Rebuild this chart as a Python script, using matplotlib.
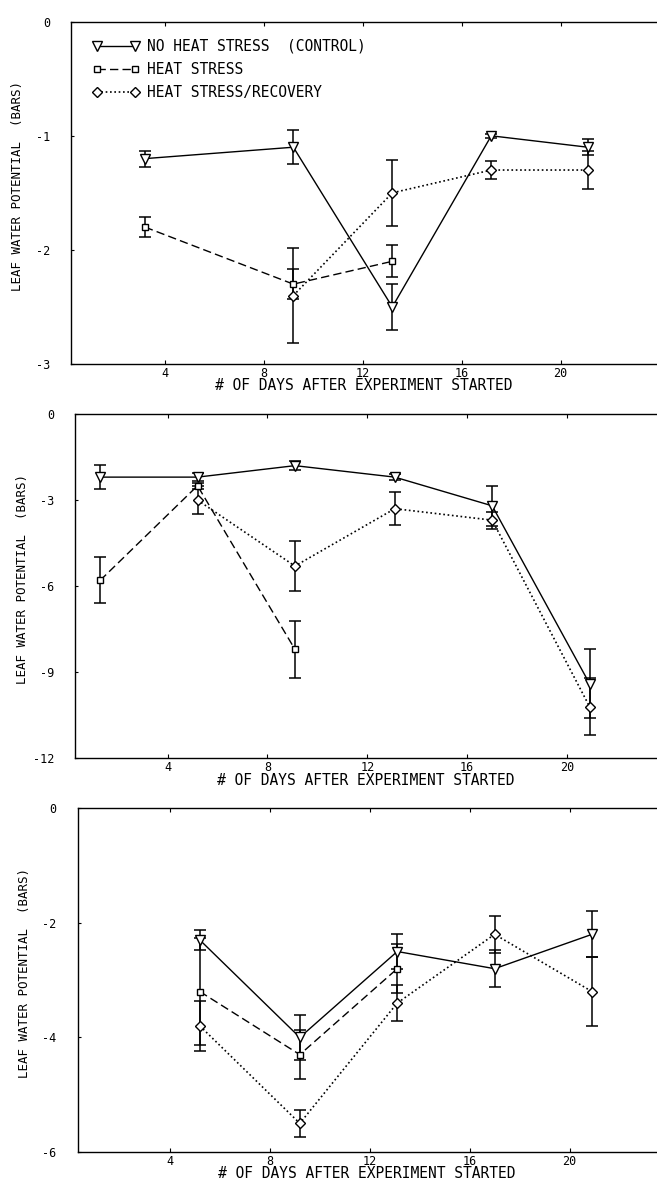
import matplotlib
matplotlib.use("Agg")
import matplotlib.pyplot as plt

plt.rcParams['font.family'] = ['DejaVu Sans Mono']

# ---------------- data ----------------
# Panel A
a_ctrl_x = [3.2, 9.2, 13.2, 17.2, 21.1]
a_ctrl_y = [-1.2, -1.1, -2.5, -1.0, -1.1]
a_ctrl_e = [0.07, 0.15, 0.2, 0.02, 0.07]
a_heat_x = [3.2, 9.2, 13.2]
a_heat_y = [-1.8, -2.3, -2.1]
a_heat_e = [0.09, 0.13, 0.14]
a_rec_x = [9.2, 13.2, 17.2, 21.1]
a_rec_y = [-2.4, -1.5, -1.3, -1.3]
a_rec_e = [0.42, 0.29, 0.08, 0.17]

# Panel B
b_ctrl_x = [1.3, 5.2, 9.1, 13.1, 17.0, 20.9]
b_ctrl_y = [-2.2, -2.2, -1.8, -2.2, -3.2, -9.4]
b_ctrl_e = [0.42, 0.15, 0.15, 0.1, 0.7, 1.2]
b_heat_x = [1.3, 5.2, 9.1]
b_heat_y = [-5.8, -2.5, -8.2]
b_heat_e = [0.8, 0.1, 1.0]
b_rec_x = [5.2, 9.1, 13.1, 17.0, 20.9]
b_rec_y = [-3.0, -5.3, -3.3, -3.7, -10.2]
b_rec_e = [0.5, 0.86, 0.58, 0.3, 1.0]

# Panel C
c_ctrl_x = [5.2, 9.2, 13.1, 17.0, 20.9]
c_ctrl_y = [-2.3, -4.0, -2.5, -2.8, -2.2]
c_ctrl_e = [0.18, 0.4, 0.3, 0.32, 0.4]
c_heat_x = [5.2, 9.2, 13.1]
c_heat_y = [-3.2, -4.3, -2.8]
c_heat_e = [0.93, 0.43, 0.43]
c_rec_x = [5.2, 9.2, 13.1, 17.0, 20.9]
c_rec_y = [-3.8, -5.5, -3.4, -2.2, -3.2]
c_rec_e = [0.44, 0.24, 0.32, 0.32, 0.6]

x_ticks = [4, 8, 12, 16, 20]
a_yticks = [0, -1, -2, -3]
b_yticks = [0, -3, -6, -9, -12]
c_yticks = [0, -2, -4, -6]

series_labels = ["NO HEAT STRESS  (CONTROL)", "HEAT STRESS", "HEAT STRESS/RECOVERY"]
xlabel = "# OF DAYS AFTER EXPERIMENT STARTED"
ylabel = "LEAF WATER POTENTIAL  (BARS)"

# ---------------- figure ----------------
W, H = 657, 1182
fig = plt.figure(figsize=(W / 100, H / 100), dpi=100)

def px_axes(left, top, bottom):
    return fig.add_axes([left / W, 1 - bottom / H, 1 - left / W, (bottom - top) / H])

panels = [
    dict(box=(71.2, 21.7, 364.0), xlim=(0.22, 23.9), ylim=(-3, 0), yt=a_yticks,
         data=[(a_ctrl_x, a_ctrl_y, a_ctrl_e), (a_heat_x, a_heat_y, a_heat_e), (a_rec_x, a_rec_y, a_rec_e)],
         legend=True),
    dict(box=(75.4, 414.0, 758.3), xlim=(0.31, 23.6), ylim=(-12, 0), yt=b_yticks,
         data=[(b_ctrl_x, b_ctrl_y, b_ctrl_e), (b_heat_x, b_heat_y, b_heat_e), (b_rec_x, b_rec_y, b_rec_e)],
         legend=False),
    dict(box=(77.5, 808.3, 1152.0), xlim=(0.3, 23.5), ylim=(-6, 0), yt=c_yticks,
         data=[(c_ctrl_x, c_ctrl_y, c_ctrl_e), (c_heat_x, c_heat_y, c_heat_e), (c_rec_x, c_rec_y, c_rec_e)],
         legend=False),
]

styles = [
    dict(marker='v', ms=7.5, ls='-', lw=1.0),
    dict(marker='s', ms=4.5, ls=(0, (6, 3)), lw=1.0),
    dict(marker='D', ms=5.5, ls=(0, (1, 1.6)), lw=1.2),
]

fs = 8.5
fs_h = 10.5
for p in panels:
    ax = px_axes(*p['box'])
    handles = []
    for (x, y, e), st, lab in zip(p['data'], styles, series_labels):
        ax.errorbar(x, y, yerr=e, fmt='none', ecolor='black', elinewidth=1.1,
                    capsize=4, capthick=1.1, zorder=2)
        h, = ax.plot(x, y, color='black', linestyle=st['ls'], linewidth=st['lw'],
                     marker=st['marker'], markersize=st['ms'], markerfacecolor='white',
                     markeredgecolor='black', markeredgewidth=1.0, label=lab, zorder=3)
        handles.append(h)
    ax.set_xlim(*p['xlim'])
    ax.set_ylim(*p['ylim'])
    ax.set_xticks(x_ticks)
    ax.set_xticklabels([str(t) for t in x_ticks], fontsize=fs)
    ax.set_yticks(p['yt'])
    ax.set_yticklabels([str(t) for t in p['yt']], fontsize=fs)
    ax.tick_params(axis='x', direction='in', length=3, width=0.8, top=True, pad=2)
    ax.tick_params(axis='y', direction='in', length=2, width=0.8, pad=15)
    ax.spines['right'].set_visible(False)
    for s in ('left', 'top', 'bottom'):
        ax.spines[s].set_linewidth(1.0)
    ax.set_xlabel(xlabel, fontsize=fs_h, labelpad=-1)
    ax.set_ylabel(ylabel, fontsize=fs + 0.5)
    ax.yaxis.set_label_coords(-0.08, 0.52)
    if p['legend']:
        ax.legend(handles=handles, loc='upper left', bbox_to_anchor=(0.02, 0.98),
                  frameon=False, fontsize=fs_h, handlelength=3.2, handletextpad=0.5,
                  labelspacing=0.55, borderaxespad=0.3, numpoints=2)

fig.savefig("out.png", dpi=100)
